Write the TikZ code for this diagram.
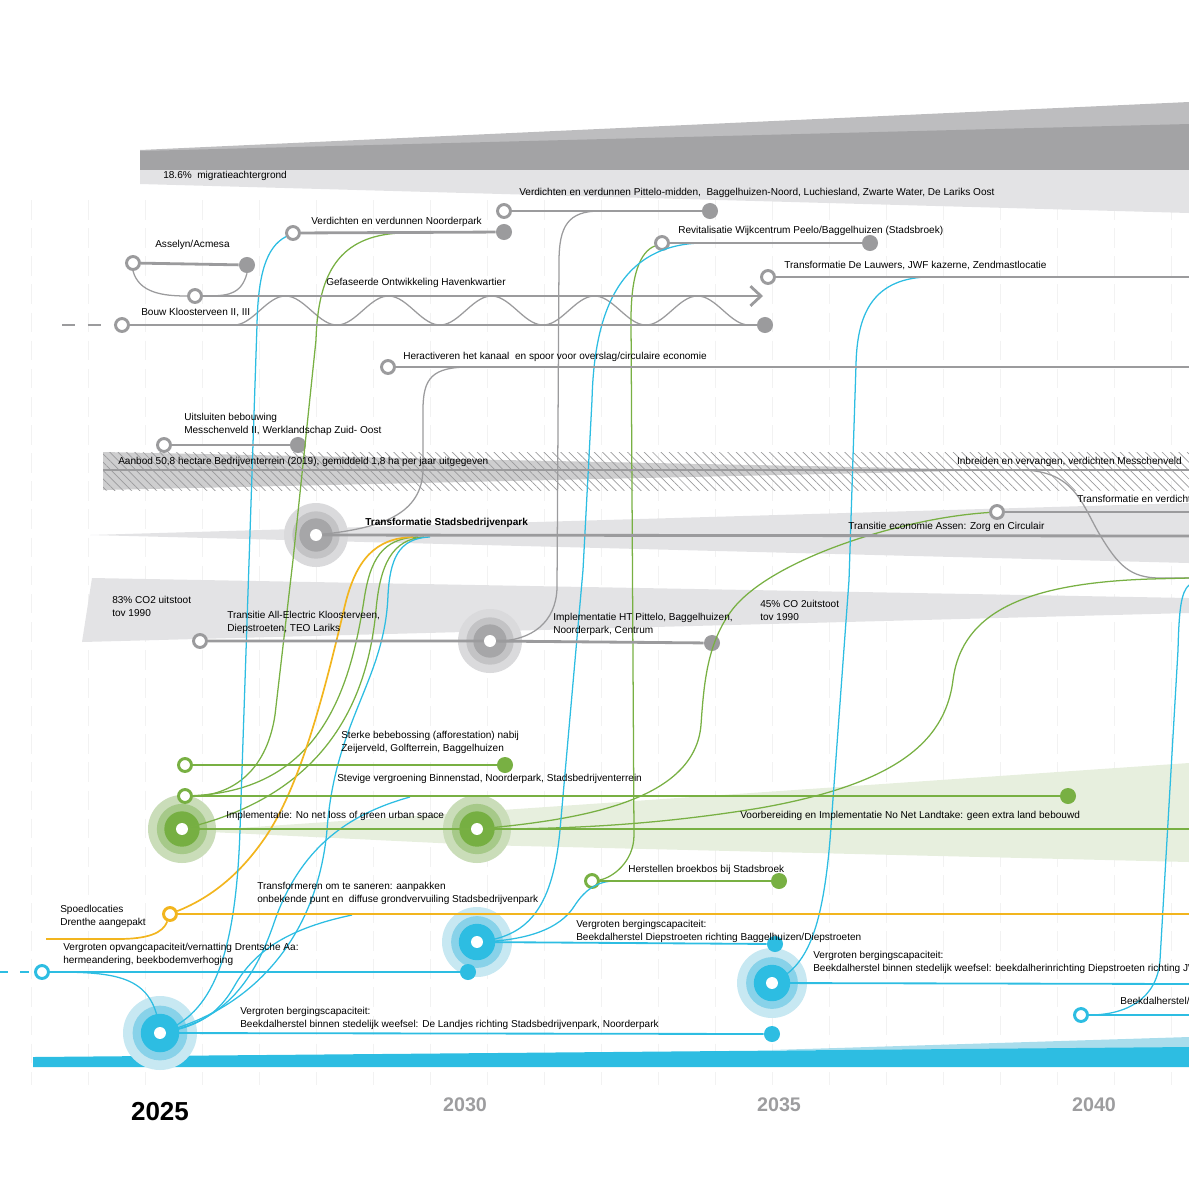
\documentclass[tikz,border=0pt]{standalone}
\usepackage{fontspec}
\setmainfont{Liberation Sans}
\usetikzlibrary{arrows.meta,patterns.meta}
\definecolor{tlGrey}{HTML}{9B9B9D}
\definecolor{tlGreen}{HTML}{78B043}
\definecolor{tlBlue}{HTML}{2DBDE2}
\definecolor{tlYellow}{HTML}{F2B51E}
\definecolor{tlBand}{HTML}{E3E3E5}
\definecolor{tlBandDark}{HTML}{A3A3A5}
\definecolor{tlBandMid}{HTML}{BDBDBF}
\definecolor{tlGreenBand}{HTML}{E7EFDE}
\definecolor{tlBlueBand}{HTML}{A9DDEC}
\definecolor{tlGreyA}{HTML}{DADADC}
\definecolor{tlGreyB}{HTML}{C3C3C5}
\definecolor{tlGreyC}{HTML}{A6A6A8}
\definecolor{tlGreenA}{HTML}{CADDB9}
\definecolor{tlGreenB}{HTML}{A6C989}
\definecolor{tlGreenC}{HTML}{76AF42}
\definecolor{tlBlueA}{HTML}{C7E8F2}
\definecolor{tlBlueB}{HTML}{88D2E9}
\definecolor{tlBlueC}{HTML}{2DBDE2}
\definecolor{tlYear}{HTML}{9D9D9F}
\newcommand\tlsmall{\fontsize{7.15}{9.2}\selectfont}
% target: name, position, colour family, outer radius
\newcommand\tltarget[4]{%
  \fill[tl#3A] (#2) circle[radius=#4];
  \fill[tl#3B] (#2) circle[radius=#4*0.74];
  \fill[tl#3C] (#2) circle[radius=#4*0.52];
  \node[tlCore] (#1) at (#2) {};
}
\tikzset{
    tlLine/.style={draw=#1, line width=2pt},
    tlBlueLine/.style={draw=tlBlue, line width=1.3pt},
    tlThin/.style={draw=#1, line width=0.9pt},
    tlOpen/.style={circle, draw=#1, fill=white, line width=2.1pt, minimum size=9.2pt, inner sep=0pt},
    tlDot/.style={circle, fill=#1, minimum size=11.4pt, inner sep=0pt},
    tlCore/.style={circle, fill=white, minimum size=8.5pt, inner sep=0pt},
    tlLabel/.style={font=\tlsmall, anchor=west, inner sep=0pt, align=left},
    tlYearLbl/.style={font=\bfseries\fontsize{14}{14}\selectfont, text=tlYear, inner sep=0pt},
    tlGrid/.style={draw=black!5, line width=0.6pt, dash pattern=on 14pt off 6pt}
}
\begin{document}
\begin{tikzpicture}[x=0.025cm, y=-0.025cm]
    \useasboundingbox (0,0) rectangle (1189,1186);
    \clip (0,0) rectangle (1189,1186);

    % faint grid
    \foreach \gx in {31,88,...,1189}
        \draw[tlGrid] (\gx,200) -- (\gx,1085);

    % bands
    \fill[tlBandMid] (140,150) -- (1189,102) -- (1189,170) -- (140,170) -- cycle;
    \fill[tlBandDark] (140,151) -- (1189,124) -- (1189,170) -- (140,170) -- cycle;
    \fill[tlBand] (140,170) -- (1189,170) -- (1189,213) -- (140,184) -- cycle;
    \fill[tlBandMid!75] (103,452) -- (1005,470) -- (103,490) -- cycle;
    \fill[pattern={Lines[angle=-45,distance=4.2pt,line width=0.5pt]}, pattern color=tlGrey] (103,452) rectangle (1189,490);
    \fill[tlBand] (90,535) -- (1189,503) -- (1189,563) -- cycle;
    \fill[tlBand] (92,578) -- (1189,598) -- (1189,613) -- (82,642) -- cycle;
    \fill[tlGreenBand] (210,830) -- (1189,763) -- (1189,862) -- (480,845) -- (210,832) -- cycle;
    \fill[tlBlueBand] (772,1050) -- (1189,1037) -- (1189,1050) -- cycle;
    \fill[tlBlue] (33,1057) -- (1189,1047) -- (1189,1067) -- (33,1067) -- cycle;

    % targets
    \tltarget{stbT}{316,535}{Grey}{32}
    \tltarget{htT}{490,641}{Grey}{32}
    \tltarget{impT}{182,829}{Green}{34}
    \tltarget{imp2T}{477,829}{Green}{34}
    \tltarget{w30T}{477,942}{Blue}{35}
    \tltarget{w35T}{772,983}{Blue}{35}
    \tltarget{w25T}{160,1033}{Blue}{37}

    % grey stops
    \node[tlOpen=tlGrey] (pitA) at (504,211) {};
    \node[tlDot=tlGrey] (pitB) at (710,211) {};
    \node[tlOpen=tlGrey] (nooA) at (293,233) {};
    \node[tlDot=tlGrey] (nooB) at (504,232) {};
    \node[tlOpen=tlGrey] (revA) at (662,243) {};
    \node[tlDot=tlGrey] (revB) at (870,243) {};
    \node[tlOpen=tlGrey] (lauA) at (768,277) {};
    \node[tlOpen=tlGrey] (assA) at (133,263) {};
    \node[tlDot=tlGrey] (assB) at (247,265) {};
    \node[tlOpen=tlGrey] (havA) at (195,296) {};
    \node[tlOpen=tlGrey] (kloA) at (122,325) {};
    \node[tlDot=tlGrey] (kloB) at (765,325) {};
    \node[tlOpen=tlGrey] (herA) at (388,367) {};
    \node[tlOpen=tlGrey] (uitA) at (164,445) {};
    \node[tlDot=tlGrey] (uitB) at (298,445) {};
    \node[tlOpen=tlGrey] (traA) at (997,512) {};
    \node[tlOpen=tlGrey] (aelA) at (200,641) {};
    \node[tlDot=tlGrey] (htB) at (712,643) {};
    \coordinate (lauE) at (1189,277);
    \coordinate (havE) at (763,296);
    \coordinate (kloS) at (62,325);
    \coordinate (herE) at (1189,367);
    \coordinate (aanS) at (103,470);
    \coordinate (aanE) at (1189,470);
    \coordinate (stbE) at (1189,536);
    \coordinate (traE) at (1189,512);

    % green stops
    \node[tlOpen=tlGreen] (stkA) at (185,765) {};
    \node[tlDot=tlGreen] (stkB) at (505,765) {};
    \node[tlOpen=tlGreen] (stvA) at (185,796) {};
    \node[tlDot=tlGreen] (stvB) at (1068,796) {};
    \node[tlOpen=tlGreen] (broA) at (592,881) {};
    \node[tlDot=tlGreen] (broB) at (779,881) {};
    \coordinate (impE) at (1189,829);

    % yellow and blue stops
    \node[tlOpen=tlYellow] (spoA) at (170,914) {};
    \coordinate (spoE) at (1189,914);
    \coordinate (spoS) at (46,939);
    \node[tlDot=tlBlue] (w30B) at (775,944) {};
    \node[tlOpen=tlBlue] (opvA) at (42,972) {};
    \node[tlDot=tlBlue] (opvB) at (468,972) {};
    \node[tlDot=tlBlue] (w25B) at (772,1034) {};
    \node[tlOpen=tlBlue] (w40A) at (1081,1015) {};
    \coordinate (opvS) at (0,972);
    \coordinate (w35E) at (1189,984);
    \coordinate (w40E) at (1189,1015);

    % junctions on the lines
    \coordinate (pitJ) at (600,211);
    \coordinate (nooJ) at (400,233);
    \coordinate (revC) at (700,243);
    \coordinate (lauC) at (925,277);
    \coordinate (herJ) at (470,367);
    \coordinate (aanJ) at (1020,470);
    \coordinate (stbY) at (413,537);
    \coordinate (stbJ) at (418,537);
    \coordinate (stbK) at (424,537);
    \coordinate (stbC) at (430,537);
    \coordinate (mesE) at (1189,578);
    \coordinate (rigC) at (1189,585);
    \coordinate (stvC) at (410,797);
    \coordinate (broC) at (615,881);
    \coordinate (spoC) at (352,915);

    % thin grey links
    \draw[tlThin=tlGrey] (assA.south) .. controls +(6,22) and +(-24,0) .. (havA.west);
    \draw[tlThin=tlGrey] (assB.south) .. controls +(-6,22) and +(24,0) .. (havA.east);
    \draw[tlThin=tlGrey] plot[domain=234:749, samples=160, smooth] (\x,{310.5+14.5*cos(3.49515*(\x-234))});
    \draw[tlThin=tlGrey] (herJ) .. controls (432,367) and (423,378) .. (423,410) -- (423,468) .. controls (423,515) and (380,528) .. (stbT);
    \draw[tlThin=tlGrey] (pitJ) .. controls (568,211) and (559,226) .. (559,262) -- (557,588) .. controls (556,622) and (532,641) .. (htT);
    \draw[tlThin=tlGrey] (aanJ) .. controls (1075,470) and (1082,505) .. (1100,535) .. controls (1118,565) and (1130,578) .. (1160,578) -- (mesE);

    % thin green links
    \draw[tlThin=tlGreen] (nooJ) .. controls (340,236) and (318,272) .. (316,340) -- (293,560) -- (275,715) .. controls (266,775) and (228,796) .. (stvA);
    \draw[tlThin=tlGreen] (stbJ) .. controls (382,538) and (370,560) .. (364,600) .. controls (350,690) and (320,790) .. (stvA);
    \draw[tlThin=tlGreen] (stbK) .. controls (392,539) and (380,565) .. (376,610) .. controls (365,730) and (300,800) .. (impT);
    \draw[tlThin=tlGreen] (revA) .. controls (640,252) and (631,275) .. (631,320) -- (634,835) .. controls (634,862) and (612,878) .. (broA);
    \draw[tlThin=tlGreen] (traA) .. controls (900,518) and (770,560) .. (732,610) .. controls (708,642) and (704,680) .. (701,725) .. controls (695,795) and (600,818) .. (imp2T);
    \draw[tlThin=tlGreen] (mesE) -- (1150,579) .. controls (1030,583) and (962,610) .. (953,680) .. controls (945,745) and (890,785) .. (760,808) .. controls (650,826) and (560,829) .. (imp2T);

    % thin yellow links
    \draw[tlThin=tlYellow, line width=1.2pt] (stbY) .. controls (375,538) and (356,560) .. (345,605) .. controls (325,690) and (300,790) .. (262,842) .. controls (235,880) and (205,900) .. (spoA);
    \draw[tlThin=tlYellow, line width=1.2pt] (spoS) -- (118,939) .. controls (148,939) and (163,933) .. (spoA);

    % thin blue links
    \draw[tlThin=tlBlue] (nooA) .. controls (266,247) and (258,275) .. (257,325) -- (240,830) .. controls (236,950) and (215,1010) .. (w25T);
    \draw[tlThin=tlBlue] (stbC) .. controls (398,538) and (390,560) .. (388,595) .. controls (385,680) and (335,720) .. (327,830) .. controls (318,930) and (260,1005) .. (w25T);
    \draw[tlThin=tlBlue] (stvC) .. controls (345,815) and (300,850) .. (275,920) .. controls (255,980) and (225,1020) .. (w25T);
    \draw[tlThin=tlBlue] (spoC) .. controls (290,928) and (255,950) .. (235,985) .. controls (222,1008) and (205,1025) .. (w25T);
    \draw[tlThin=tlBlue] (opvA) .. controls (115,972) and (152,975) .. (w25T);
    \draw[tlThin=tlBlue] (revC) .. controls (615,246) and (594,320) .. (592,400) -- (583,570) -- (560,830) .. controls (553,905) and (530,935) .. (w30T);
    \draw[tlThin=tlBlue] (lauC) .. controls (872,280) and (857,315) .. (856,365) -- (849,580) -- (830,840) .. controls (822,935) and (805,965) .. (w35T);
    \draw[tlThin=tlBlue] (rigC) .. controls (1181,592) and (1179,610) .. (1178,650) -- (1160,960) .. controls (1157,1000) and (1125,1015) .. (w40A);
    \draw[tlThin=tlBlue] (w30T) .. controls (525,940) and (560,930) .. (575,905) .. controls (585,890) and (597,881) .. (broC);

    % grey lines
    \draw[tlLine=tlGrey] (pitA) -- (pitB);
    \draw[tlLine=tlGrey] (nooA) -- (nooB);
    \draw[tlLine=tlGrey] (revA) -- (revB);
    \draw[tlLine=tlGrey] (lauA) -- (lauE);
    \draw[tlLine=tlGrey] (assA) -- (assB);
    \draw[tlLine=tlGrey, -{Straight Barb[length=7.5pt,width=14pt]}] (havA) -- (havE);
    \draw[tlLine=tlGrey] (kloA) -- (kloB);
    \draw[tlLine=tlGrey, dash pattern=on 9.2pt off 9.2pt] (kloS) -- (kloA);
    \draw[tlLine=tlGrey] (herA) -- (herE);
    \draw[tlLine=tlGrey] (uitA) -- (uitB);
    \draw[tlLine=tlGrey] (aanS) -- (aanE);
    \draw[tlLine=tlGrey] (stbT) -- (stbE);
    \draw[tlLine=tlGrey] (traA) -- (traE);
    \draw[tlLine=tlGrey] (aelA) -- (htT) -- (htB);

    % green lines
    \draw[tlLine=tlGreen] (stkA) -- (stkB);
    \draw[tlLine=tlGreen] (stvA) -- (stvB);
    \draw[tlLine=tlGreen] (impT) -- (imp2T) -- (impE);
    \draw[tlLine=tlGreen] (broA) -- (broB);

    % yellow and blue lines
    \draw[tlLine=tlYellow, line width=1.6pt] (spoA) -- (spoE);
    \draw[tlBlueLine] (w30T) -- (w30B);
    \draw[tlBlueLine, dash pattern=on 6pt off 8.5pt] (opvS) -- (opvA);
    \draw[tlBlueLine] (opvA) -- (opvB);
    \draw[tlBlueLine] (w35T) -- (w35E);
    \draw[tlBlueLine] (w25T) -- (w25B);
    \draw[tlBlueLine] (w40A) -- (w40E);

    % labels
    \node[tlLabel] (migL) at (163,176) {18.6\%\ \ migratieachtergrond};
    \node[tlLabel] (pitL) at (519,193) {Verdichten en verdunnen Pittelo-midden,\ \ Baggelhuizen-Noord, Luchiesland, Zwarte Water, De Lariks Oost};
    \node[tlLabel] (nooL) at (311,222) {Verdichten en verdunnen Noorderpark};
    \node[tlLabel] (revL) at (678,231) {Revitalisatie Wijkcentrum Peelo/Baggelhuizen (Stadsbroek)};
    \node[tlLabel] (lauL) at (784,265) {Transformatie De Lauwers, JWF kazerne, Zendmastlocatie};
    \node[tlLabel] (assL) at (155,245) {Asselyn/Acmesa};
    \node[tlLabel] (havL) at (326,283) {Gefaseerde Ontwikkeling Havenkwartier};
    \node[tlLabel] (kloL) at (141,312) {Bouw Kloosterveen II, III};
    \node[tlLabel] (herL) at (403,357) {Heractiveren het kanaal\ \ en spoor voor overslag/circulaire economie};
    \node[tlLabel] (uitL) at (184,424.5) {Uitsluiten bebouwing\\Messchenveld II, Werklandschap Zuid- Oost};
    \node[tlLabel] (aanL) at (118,462) {Aanbod 50,8 hectare Bedrijventerrein (2019), gemiddeld 1,8 ha per jaar uitgegeven};
    \node[tlLabel, anchor=east] (inbL) at (1182,462) {Inbreiden en vervangen, verdichten Messchenveld};
    \node[tlLabel] (trvL) at (1077,500) {Transformatie en verdichting};
    \node[tlLabel, font=\tlsmall\bfseries] (stbL) at (365,523) {Transformatie Stadsbedrijvenpark};
    \node[tlLabel] (traL) at (848,527) {Transitie economie Assen: Zorg en Circulair};
    \node[tlLabel] (co1L) at (112,606.5) {83\% CO2 uitstoot\\tov 1990};
    \node[tlLabel] (aelL) at (227,622.5) {Transitie All-Electric Kloosterveen,\\Diepstroeten, TEO Lariks};
    \node[tlLabel] (htL) at (553,624.5) {Implementatie HT Pittelo, Baggelhuizen,\\Noorderpark, Centrum};
    \node[tlLabel] (co2L) at (760,610.5) {45\% CO 2uitstoot\\tov 1990};
    \node[tlLabel] (stkL) at (341,742.5) {Sterke bebebossing (afforestation) nabij\\Zeijerveld, Golfterrein, Baggelhuizen};
    \node[tlLabel] (stvL) at (337,779) {Stevige vergroening Binnenstad, Noorderpark, Stadsbedrijventerrein};
    \node[tlLabel] (impL) at (226,816) {Implementatie: No net loss of green urban space};
    \node[tlLabel] (vooL) at (740,816) {Voorbereiding en Implementatie No Net Landtake: geen extra land bebouwd};
    \node[tlLabel] (broL) at (628,870) {Herstellen broekbos bij Stadsbroek};
    \node[tlLabel] (sanL) at (257,893.5) {Transformeren om te saneren: aanpakken\\onbekende punt en\ \ diffuse grondvervuiling Stadsbedrijvenpark};
    \node[tlLabel] (spoL) at (60,916) {Spoedlocaties\\Drenthe aangepakt};
    \node[tlLabel] (w30L) at (576,931.5) {Vergroten bergingscapaciteit:\\Beekdalherstel Diepstroeten richting Baggelhuizen/Diepstroeten};
    \node[tlLabel] (opvL) at (63,954.5) {Vergroten opvangcapaciteit/vernatting Drentsche Aa:\\hermeandering, beekbodemverhoging};
    \node[tlLabel] (w35L) at (813,962.5) {Vergroten bergingscapaciteit:\\Beekdalherstel binnen stedelijk weefsel: beekdalherinrichting Diepstroeten richting JWF kazerne};
    \node[tlLabel] (w40L) at (1120,1001) {Beekdalherstel/};
    \node[tlLabel] (w25L) at (240,1018.5) {Vergroten bergingscapaciteit:\\Beekdalherstel binnen stedelijk weefsel: De Landjes richting Stadsbedrijvenpark, Noorderpark};

    % years
    \node[font=\bfseries\fontsize{18.5}{18.5}\selectfont, inner sep=0pt] (y25) at (160,1112) {2025};
    \node[tlYearLbl] (y30) at (465,1105) {2030};
    \node[tlYearLbl] (y35) at (779,1105) {2035};
    \node[tlYearLbl] (y40) at (1094,1105) {2040};
\end{tikzpicture}
\end{document}
